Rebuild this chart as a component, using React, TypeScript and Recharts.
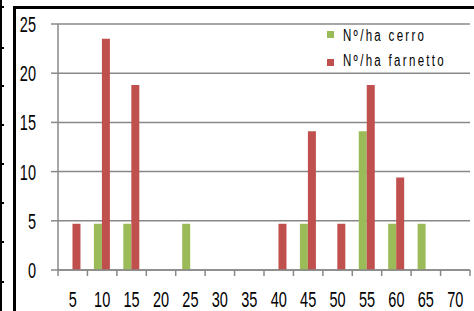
import React from 'react';
import { BarChart, Bar, XAxis, YAxis, CartesianGrid } from 'recharts';

// diameter classes (cm)
const classes = ['5', '10', '15', '20', '25', '30', '35', '40', '45', '50', '55', '60', '65', '70'];
// trees per hectare
const cerro = [0, 4.7, 4.7, 0, 4.7, 0, 0, 0, 4.7, 0, 14.1, 4.7, 4.7, 0];
const farnetto = [4.7, 23.5, 18.8, 0, 0, 0, 0, 4.7, 14.1, 4.7, 18.8, 9.4, 0, 0];
const yTicks = [0, 5, 10, 15, 20, 25];
const seriesNames = ['Nº/ha cerro', 'Nº/ha farnetto'];

const W = 474;
const H = 311;
const PLOT_LEFT = 58;
const PLOT_RIGHT = 470;
const PLOT_BOTTOM = 270;
const GRID = '#888888';
const GREEN = '#9BBB59';
const RED = '#C0504D';
const FONT = "'Liberation Sans', Arial, sans-serif";
const SQUEEZE = 0.66; // the original font is very condensed

const data = classes.map((c, i) => ({ cls: c, cerro: cerro[i], farnetto: farnetto[i] }));
const BAND = (PLOT_RIGHT - PLOT_LEFT) / classes.length;

// tick marks sit between categories, like Excel
const XTick = ({ x, payload, index }: any) => {
  const left = x - BAND / 2;
  return (
    <g>
      <line x1={left} x2={left} y1={PLOT_BOTTOM} y2={PLOT_BOTTOM + 6} stroke={GRID} strokeWidth={1.5} />
      {index === classes.length - 1 && (
        <line x1={x + BAND / 2} x2={x + BAND / 2} y1={PLOT_BOTTOM} y2={PLOT_BOTTOM + 6} stroke={GRID} strokeWidth={1.5} />
      )}
      <text
        transform={`translate(${x},${PLOT_BOTTOM + 37}) scale(${SQUEEZE},1)`}
        textAnchor="middle"
        fontSize={22}
        fontFamily={FONT}
        fill="#000"
      >
        {payload.value}
      </text>
    </g>
  );
};

const YTick = ({ y, payload }: any) => (
  <text
    transform={`translate(36,${y + 8}) scale(${SQUEEZE},1)`}
    textAnchor="end"
    fontSize={22}
    fontFamily={FONT}
    fill="#000"
  >
    {payload.value}
  </text>
);

export default function App() {
  const colors = [GREEN, RED];
  return (
    <div style={{ position: 'absolute', left: 0, top: 0, width: W, height: H, background: '#fff', overflow: 'hidden' }}>
      <BarChart
        width={W}
        height={H}
        data={data}
        margin={{ top: 24, right: W - PLOT_RIGHT, bottom: 11, left: 13 }}
        barCategoryGap="22%"
        barGap={0}
      >
        <CartesianGrid vertical={false} stroke={GRID} strokeWidth={1.5} />
        <XAxis
          dataKey="cls"
          height={30}
          interval={0}
          axisLine={{ stroke: GRID, strokeWidth: 1.5 }}
          tickLine={false}
          tick={<XTick />}
        />
        <YAxis
          width={45}
          domain={[0, 25]}
          ticks={yTicks}
          interval={0}
          axisLine={{ stroke: GRID, strokeWidth: 1.5 }}
          tickLine={{ stroke: GRID, strokeWidth: 1.5 }}
          tickSize={7}
          tick={<YTick />}
        />
        <Bar dataKey="cerro" fill={GREEN} isAnimationActive={false} />
        <Bar dataKey="farnetto" fill={RED} isAnimationActive={false} />
      </BarChart>

      {/* legend */}
      {seriesNames.map((name, i) => (
        <div key={name}>
          <div style={{ position: 'absolute', left: 327, top: 31 + i * 27.5, width: 7, height: 7, background: colors[i] }} />
          <div
            style={{
              position: 'absolute',
              left: 343,
              top: 27.5 + i * 25.7,
              fontSize: 16,
              lineHeight: '16px',
              letterSpacing: 3.2,
              fontFamily: FONT,
              color: '#000',
              whiteSpace: 'nowrap',
              transform: 'scaleX(0.72)',
              transformOrigin: 'left top',
            }}
          >
            {name}
          </div>
        </div>
      ))}

      {/* surrounding frame pieces */}
      <div style={{ position: 'absolute', left: 13, top: 6, width: W - 13, height: 2.5, background: '#000' }} />
      <div style={{ position: 'absolute', left: 13, top: 6, width: 2.5, height: H - 6, background: '#000' }} />
      <div style={{ position: 'absolute', left: 0, top: 0, width: 1.5, height: H, background: '#000' }} />
      {[7, 48, 86, 125, 164, 203, 242, 282].map((y) => (
        <div key={y} style={{ position: 'absolute', left: 0, top: y - 1, width: 4, height: 2, background: '#000' }} />
      ))}
    </div>
  );
}
